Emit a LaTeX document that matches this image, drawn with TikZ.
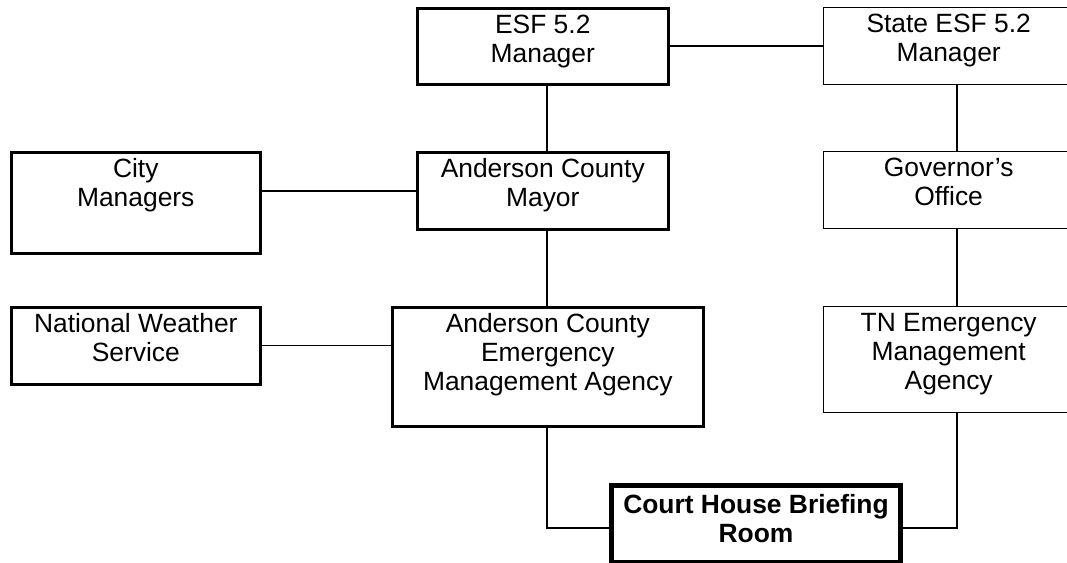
\documentclass[tikz,border=0pt]{standalone}
\usepackage{fontspec}
\setmainfont{Liberation Sans}
\usepackage{tikz}

\begin{document}
\begin{tikzpicture}[x=0.75pt,y=-0.75pt,
	orgbox/.style={draw, line width=1.9pt, inner sep=0pt, align=center, anchor=north west,
		font=\fontsize{19.8pt}{21.75pt}\selectfont, text height=40.5pt},
	statebox/.style={orgbox, line width=1pt},
	briefbox/.style={orgbox, line width=3.75pt, font=\fontsize{19.8pt}{21.75pt}\selectfont\bfseries, text height=42.75pt},
	link/.style={line width=1.5pt}]
	\useasboundingbox (0,0) rectangle (1067,562);
	\coordinate (colA) at (547,0);
	\coordinate (colB) at (957,0);

	\node[orgbox, minimum width=188.25pt, text depth=16.5pt] (esf) at (416,7) {ESF 5.2\\Manager};
	\node[statebox, minimum width=187.5pt, text depth=17.25pt] (state) at (823,7) {State ESF 5.2\\Manager};
	\node[orgbox, minimum width=186.75pt, text depth=35.25pt] (city) at (10,151) {City\\Managers};
	\node[orgbox, minimum width=188.25pt, text depth=17.25pt] (mayor) at (416,151) {Anderson County\\Mayor};
	\node[statebox, minimum width=187.5pt, text depth=17.25pt] (gov) at (823,151) {Governor’s\\Office};
	\node[orgbox, minimum width=186.75pt, text depth=17.25pt] (nws) at (10,306) {National Weather\\Service};
	\node[orgbox, minimum width=233.25pt, text height=62.25pt, text depth=27pt] (acema) at (391,306) {Anderson County\\Emergency\\Management Agency};
	\node[statebox, minimum width=187.5pt, text height=62.25pt, text depth=17.25pt] (tnema) at (823,306) {TN Emergency\\Management\\Agency};
	\node[briefbox, minimum width=216.75pt, text depth=15pt] (brief) at (609,483) {Court House Briefing\\Room};

	\draw[link] (esf.east) -- (esf.east -| state.west);
	\draw[link] (esf.south -| colA) -- (mayor.north -| colA);
	\draw[link] (mayor.west) -- (mayor.west -| city.east);
	\draw[link] (mayor.south -| colA) -- (acema.north -| colA);
	\draw[line width=0.9pt] (nws.east) -- (nws.east -| acema.west);
	\draw[link] (state.south -| colB) -- (gov.north -| colB);
	\draw[link] (gov.south -| colB) -- (tnema.north -| colB);
	\draw[link] (acema.south -| colA) |- ([yshift=-3pt]brief.west);
	\draw[link] (tnema.south -| colB) |- ([yshift=-3pt]brief.east);
\end{tikzpicture}
\end{document}
